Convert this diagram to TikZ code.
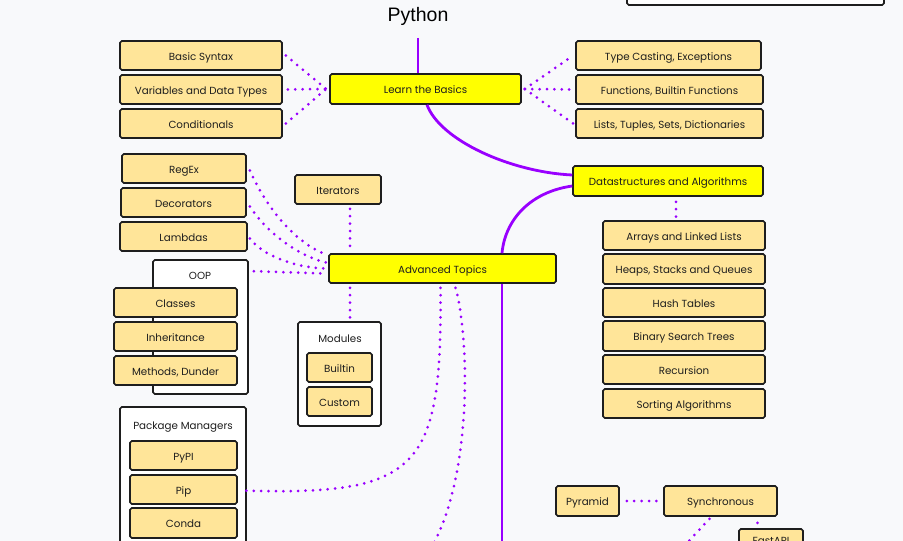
\documentclass[tikz,border=0pt]{standalone}
\usepackage{fontspec}
\setmainfont{Poppins}
\newfontfamily\titlefont{Liberation Sans}
\usetikzlibrary{calc}
\definecolor{bgcol}{RGB}{248,249,251}
\definecolor{leafcol}{RGB}{255,229,153}
\definecolor{topiccol}{RGB}{255,255,0}
\definecolor{purp}{RGB}{153,0,255}
\definecolor{inkcol}{RGB}{30,30,30}
\begin{document}
\begin{tikzpicture}[x=1pt,y=-1pt,
  box/.style={draw=inkcol, line width=1.6pt, rounded corners=1.8pt, inner sep=0pt,
    text=inkcol, font=\fontsize{10.3}{12}\selectfont, text height=9pt, text depth=0pt},
  leaf/.style={box, fill=leafcol},
  topic/.style={box, fill=topiccol},
  group/.style={draw=inkcol, line width=1.6pt, rounded corners=1.8pt, fill=white, inner sep=0pt},
  grouptitle/.style={text=inkcol, inner sep=0pt, font=\fontsize{10.3}{12}\selectfont},
  link/.style={draw=purp, line width=2.8pt},
  dots/.style={draw=purp, line width=3pt, line cap=round, dash pattern=on 0pt off 7.4pt}]
\useasboundingbox (0,0) rectangle (903,541);
\clip (0,0) rectangle (903,541);
\fill[bgcol] (0,0) rectangle (903,541);

% title and the box at the top right
\node[inner sep=0pt, text=black, font=\titlefont\fontsize{19.5}{22}\selectfont] (py) at (418,16.5) {Python};
\node[group, minimum width=257pt, minimum height=40pt] (topbox) at (755.5,-15) {};

% main topics
\node[topic, minimum width=191pt, minimum height=30pt] (ltb) at (425.5,89) {Learn the Basics};
\node[topic, minimum width=190pt, minimum height=30pt] (ds) at (668,181) {Datastructures and Algorithms};
\node[topic, minimum width=227pt, minimum height=29pt] (at) at (442.5,268.5) {Advanced Topics};

% basics
\node[leaf, minimum width=162pt, minimum height=29pt] (bs) at (201,55.5) {Basic Syntax};
\node[leaf, minimum width=162pt, minimum height=29pt] (vd) at (201,89.5) {Variables and Data Types};
\node[leaf, minimum width=162pt, minimum height=29pt] (cd) at (201,123.5) {Conditionals};
\node[leaf, minimum width=185pt, minimum height=29pt] (tc) at (668.5,55.5) {Type Casting, Exceptions};
\node[leaf, minimum width=187pt, minimum height=29pt] (fn) at (669.5,89.5) {Functions, Builtin Functions};
\node[leaf, minimum width=187pt, minimum height=29pt] (ls) at (669.5,123.5) {Lists, Tuples, Sets, Dictionaries};

% datastructures
\node[leaf, minimum width=162pt, minimum height=29pt] (arr) at (684,235.5) {Arrays and Linked Lists};
\node[leaf, minimum width=162pt, minimum height=30pt] (hsq) at (684,269) {Heaps, Stacks and Queues};
\node[leaf, minimum width=162pt, minimum height=29pt] (hash) at (684,302.5) {Hash Tables};
\node[leaf, minimum width=162pt, minimum height=30pt] (bst) at (684,336) {Binary Search Trees};
\node[leaf, minimum width=162pt, minimum height=29pt] (rec) at (684,369.5) {Recursion};
\node[leaf, minimum width=162pt, minimum height=29pt] (sort) at (684,403.5) {Sorting Algorithms};

% advanced topics
\node[leaf, minimum width=124pt, minimum height=29pt] (regex) at (184,168.5) {RegEx};
\node[leaf, minimum width=125pt, minimum height=29pt] (deco) at (183.5,202.5) {Decorators};
\node[leaf, minimum width=127pt, minimum height=29pt] (lam) at (183.5,236.5) {Lambdas};
\node[leaf, minimum width=86pt, minimum height=29pt] (iter) at (338,189.5) {Iterators};

\node[group, minimum width=95pt, minimum height=134pt] (oop) at (200.5,327) {};
\node[grouptitle] (ooptitle) at (200,275.5) {OOP};
\node[leaf, minimum width=123pt, minimum height=29pt] (cls) at (175.5,302.5) {Classes};
\node[leaf, minimum width=123pt, minimum height=29pt] (inh) at (175.5,336.5) {Inheritance};
\node[leaf, minimum width=123pt, minimum height=29pt] (meth) at (175.5,370.5) {Methods, Dunder};

\node[group, minimum width=83pt, minimum height=104pt] (mods) at (339.5,374) {};
\node[grouptitle] (modstitle) at (340,338.5) {Modules};
\node[leaf, minimum width=65pt, minimum height=29pt] (bi) at (339.5,367.5) {Builtin};
\node[leaf, minimum width=65pt, minimum height=29pt] (cu) at (339.5,401.5) {Custom};

\node[group, minimum width=126pt, minimum height=153pt] (pm) at (183,483.5) {};
\node[grouptitle] (pmtitle) at (183,427.5) {Package Managers};
\node[leaf, minimum width=107pt, minimum height=29pt] (pypi) at (183.5,455.5) {PyPI};
\node[leaf, minimum width=107pt, minimum height=29pt] (pip) at (183.5,489.5) {Pip};
\node[leaf, minimum width=107pt, minimum height=30pt] (conda) at (183.5,523) {Conda};

% web frameworks
\node[leaf, minimum width=63pt, minimum height=30pt] (pyr) at (587.5,501) {Pyramid};
\node[leaf, minimum width=113pt, minimum height=30pt] (sync) at (720.5,501) {Synchronous};
\node[leaf, minimum width=64pt, minimum height=30pt, text height=1pt] (fa) at (771,544) {FastAPI};

% solid branches
\coordinate (trunk) at (502,560);
\draw[link] ([yshift=-12pt]py.south) -- (py.south |- ltb.north);
\draw[link] ([xshift=1.5pt]ltb.south) .. controls (440,140) and (510,172) .. ($(ds.west)+(0,-6)$);
\draw[link] ($(ds.west)+(0,5)$) .. controls (530,192) and (505,220) .. (at.north -| trunk);
\draw[link] (at.south -| trunk) -- (trunk);

% dotted links of the basics
\draw[dots] ($(bs.east)+(3,0)$) -- ($(ltb.west)+(-3,0)$);
\draw[dots] ($(vd.east)+(5,0)$) -- ($(ltb.west)+(-3,0)$);
\draw[dots] ($(cd.east)+(3,0)$) -- ($(ltb.west)+(-3,0)$);
\draw[dots] ($(ltb.east)+(3,0)$) -- ($(tc.west)+(-2,0)$);
\draw[dots] ($(ltb.east)+(3,0)$) -- ($(fn.west)+(-3,0)$);
\draw[dots] ($(ltb.east)+(3,0)$) -- ($(ls.west)+(-2,0)$);

% dotted links of the datastructures
\coordinate (dsx) at (676,0);
\draw[dots] ($(ds.south -| dsx)+(0,5)$) -- ($(arr.north -| dsx)+(0,-2)$);

% dotted links of the advanced topics
\draw[dots] ($(regex.east)+(3,2)$) .. controls (270,215) and (300,245) .. ($(at.west)+(-2,-14)$);
\draw[dots] ($(deco.east)+(3,4)$) .. controls (265,230) and (295,255) .. ($(at.west)+(-2,-6)$);
\draw[dots] ($(lam.east)+(2,2)$) .. controls (262,255) and (295,268) .. ($(at.west)+(-2,0)$);
\draw[dots] ($(oop.north east)+(5,12)$) -- ($(at.west)+(-4,5)$);
\coordinate (itx) at (350,0);
\draw[dots] ($(iter.south -| itx)+(0,4)$) -- ($(at.north -| itx)+(0,-3)$);
\draw[dots] ($(at.south -| itx)+(0,4)$) -- ($(mods.north -| itx)+(0,-2)$);
\draw[dots] ($(at.south)+(-2,4)$) .. controls (442,470) and (420,496) .. ($(pip.east)+(3,1)$);
\draw[dots] ($(at.south)+(13,4)$) .. controls (470,340) and (472,480) .. (430,550);

% dotted links of the web frameworks
\draw[dots] ($(pyr.east)+(7,0)$) -- ($(sync.west)+(-3,0)$);
\draw[dots] ($(sync.south)+(-11,2)$) -- (675,556);
\draw[dots] ($(sync.south)+(37,6)$) -- ($(fa.north)+(-14,-5)$);
\end{tikzpicture}
\end{document}
